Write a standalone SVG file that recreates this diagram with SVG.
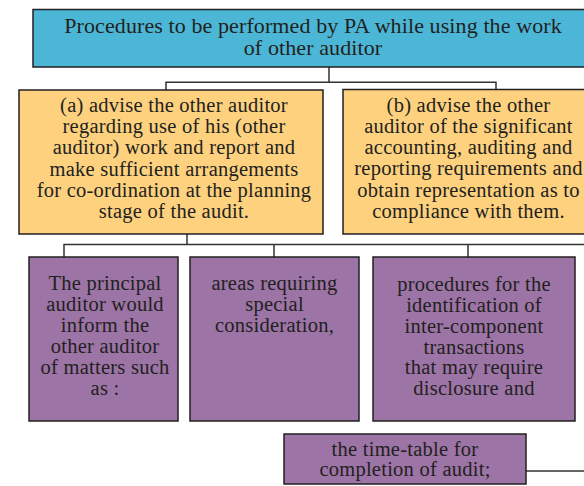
<svg xmlns="http://www.w3.org/2000/svg" width="584" height="486" viewBox="0 0 584 486">
<style>
.box{stroke:#231f20;stroke-width:1.5}
.top{fill:#4cb6d6}
.org{fill:#fdd17e}
.pur{fill:#9c74a6}
.c{fill:none;stroke:#333;stroke-width:1.5}
text{font-family:"Liberation Serif","Times New Roman",serif;fill:#231f20;text-anchor:middle}
.t1{font-size:22px;letter-spacing:0.1px}
.t2{font-size:20.5px;letter-spacing:0.25px}
</style>
<rect width="584" height="486" fill="#fff"/>
<g id="connectors">
<path class="c" d="M329 67V82.3M166 90V82.3H496V90"/>
<path class="c" d="M187 234V244.5M64 257V244.5H584M274 244.5V257M468 244.5V257"/>
<path class="c" d="M526 471H584"/>
</g>
<g id="n-top">
<rect class="box top" x="33" y="9.5" width="561" height="57.5"/>
<text class="t1" x="313" y="32.5">Procedures to be performed by PA while using the work</text>
<text class="t1" x="313" y="55">of other auditor</text>
</g>
<g id="n-a">
<rect class="box org" x="19" y="90" width="304" height="144"/>
<text class="t2" x="174" y="112.3">(a) advise the other auditor</text>
<text class="t2" x="174" y="133.3">regarding use of his (other</text>
<text class="t2" x="174" y="154.3">auditor) work and report and</text>
<text class="t2" x="174" y="175.8">make sufficient arrangements</text>
<text class="t2" x="174" y="197">for co-ordination at the planning</text>
<text class="t2" x="174" y="218.2">stage of the audit.</text>
</g>
<g id="n-b">
<rect class="box org" x="343" y="89.5" width="252" height="144.5"/>
<text class="t2" x="468.5" y="111.7">(b) advise the other</text>
<text class="t2" x="468.5" y="133">auditor of the significant</text>
<text class="t2" x="468.5" y="154">accounting, auditing and</text>
<text class="t2" x="468.5" y="175.3">reporting requirements and</text>
<text class="t2" x="468.5" y="196.6">obtain representation as to</text>
<text class="t2" x="468.5" y="217.7">compliance with them.</text>
</g>
<g id="n-1">
<rect class="box pur" x="29" y="257" width="149" height="164"/>
<text class="t2" x="105" y="290">The principal</text>
<text class="t2" x="105" y="311">auditor would</text>
<text class="t2" x="105" y="332">inform the</text>
<text class="t2" x="105" y="353">other auditor</text>
<text class="t2" x="105" y="374">of matters such</text>
<text class="t2" x="105" y="395">as :</text>
</g>
<g id="n-2">
<rect class="box pur" x="190" y="257" width="169" height="164"/>
<text class="t2" x="274.5" y="290">areas requiring</text>
<text class="t2" x="274.5" y="311">special</text>
<text class="t2" x="274.5" y="332">consideration,</text>
</g>
<g id="n-3">
<rect class="box pur" x="373" y="257" width="202" height="164"/>
<text class="t2" x="474" y="291">procedures for the</text>
<text class="t2" x="474" y="312.3">identification of</text>
<text class="t2" x="474" y="333">inter-component</text>
<text class="t2" x="474" y="353.5">transactions</text>
<text class="t2" x="474" y="374.3">that may require</text>
<text class="t2" x="474" y="395">disclosure and</text>
</g>
<g id="n-4">
<rect class="box pur" x="284" y="434" width="242" height="50"/>
<text class="t2" x="405" y="456">the time-table for</text>
<text class="t2" x="405" y="476">completion of audit;</text>
</g>
</svg>
